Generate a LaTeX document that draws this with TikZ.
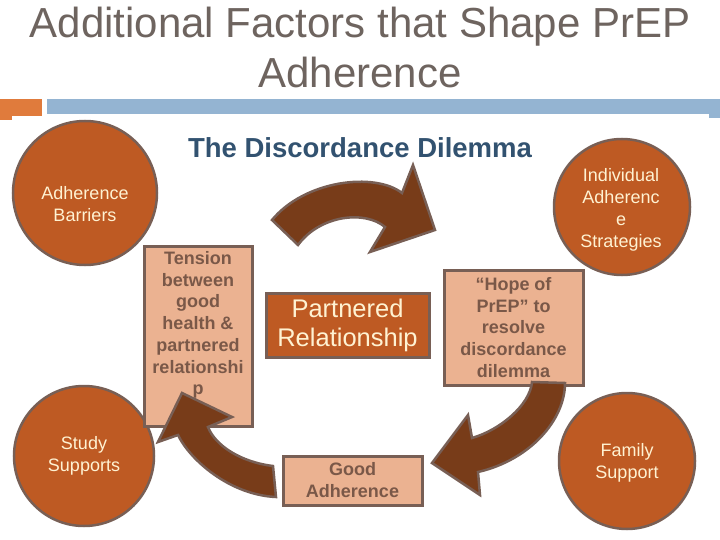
\documentclass[tikz,border=0pt]{standalone}
\usepackage{fontspec}
\setmainfont{Liberation Sans}
\definecolor{orng}{RGB}{190,90,35}
\definecolor{brd}{RGB}{120,95,85}
\definecolor{salmon}{RGB}{235,178,145}
\definecolor{arrowfill}{RGB}{120,60,25}
\definecolor{titlegray}{RGB}{110,100,95}
\definecolor{subblue}{RGB}{50,82,112}
\definecolor{barblue}{RGB}{148,180,210}
\definecolor{barorange}{RGB}{224,123,60}
\definecolor{cream}{RGB}{255,242,210}
\definecolor{boxtext}{RGB}{122,88,72}
\begin{document}
\begin{tikzpicture}[x=1pt,y=-1pt,
  circ/.style={circle, fill=orng, draw=brd, line width=2.5pt, minimum size=#1, inner sep=0pt},
  ctext/.style={align=center, text=cream, inner sep=0pt, font=\fontsize{18}{22}\selectfont},
  lightbox/.style={rectangle, fill=salmon, draw=brd, line width=3pt, inner sep=0pt},
  darkbox/.style={rectangle, fill=orng, draw=brd, line width=3pt, inner sep=0pt},
  btext/.style={align=center, text=boxtext, inner sep=0pt, font=\fontsize{18}{21.7}\selectfont\bfseries},
  bigarrow/.style={fill=arrowfill, draw=brd, line width=2.5pt, line join=miter}
]
\useasboundingbox (0,0) rectangle (720,540);
% title
\node[text=titlegray, align=center, inner sep=0pt, font=\fontsize{42}{50}\selectfont] (title) at (360,47) {Additional Factors that Shape PrEP\\Adherence};
% bars
\fill[barorange] (0,99) rectangle (42,116);
\fill[barorange] (0,116) rectangle (12,120);
\fill[barblue] (47,99) rectangle (720,114);
\fill[barblue] (709,114) rectangle (720,118);
% subtitle
\node[text=subblue, inner sep=0pt, font=\fontsize{27.5}{30}\selectfont\bfseries] (sub) at (360,148) {The Discordance Dilemma};
% circles
\node[circ=144] (barriers) at (85,193) {};
\node[ctext] (barrierstxt) at (85,204) {Adherence\\Barriers};
\node[circ=136] (indiv) at (622,207) {};
\node[ctext] (indivtxt) at (621,210) {Individual\\Adherenc\\e\\Strategies};
\node[circ=140] (study) at (84,456) {};
\node[ctext] (studytxt) at (84,456) {Study\\Supports};
\node[circ=136] (family) at (627,461) {};
\node[ctext] (familytxt) at (627,463) {Family\\Support};
% boxes
\node[lightbox, minimum width=108, minimum height=180] (tension) at (198,336) {};
\node[btext] (tensiontxt) at (198,325) {Tension\\between\\good\\health \&\\partnered\\relationshi\\p};
\node[darkbox, minimum width=163, minimum height=64, align=center, text=cream, font=\fontsize{25.5}{29}\selectfont] (partner) at (347.5,325) {Partnered\\Relationship};
\node[lightbox, minimum width=139, minimum height=115] (hope) at (513.5,327.5) {};
\node[btext] (hopetxt) at (513.5,327.5) {“Hope of\\PrEP” to\\resolve\\discordance\\dilemma};
\node[lightbox, minimum width=139, minimum height=49] (good) at (352.5,480.5) {};
\node[btext] (goodtxt) at (352.5,480) {Good\\Adherence};
% arrows
\draw[bigarrow] (272,220) .. controls (305,180) and (375,172) .. (402,193)
  -- (413,165) -- (435,230) -- (370,252) -- (385,227)
  .. controls (365,210) and (320,215) .. (298,245) -- cycle;
\draw[bigarrow] (565,383) .. controls (565,420) and (530,460) .. (478,472)
  -- (480,495) -- (432,463) -- (468,415) -- (472,438)
  .. controls (500,430) and (530,405) .. (532,382) -- cycle;
\draw[bigarrow] (276,497) .. controls (230,495) and (190,460) .. (178,435)
  -- (158,442) -- (182,393) -- (232,417) -- (208,427)
  .. controls (215,445) and (240,462) .. (273,466) -- cycle;
\end{tikzpicture}
\end{document}
